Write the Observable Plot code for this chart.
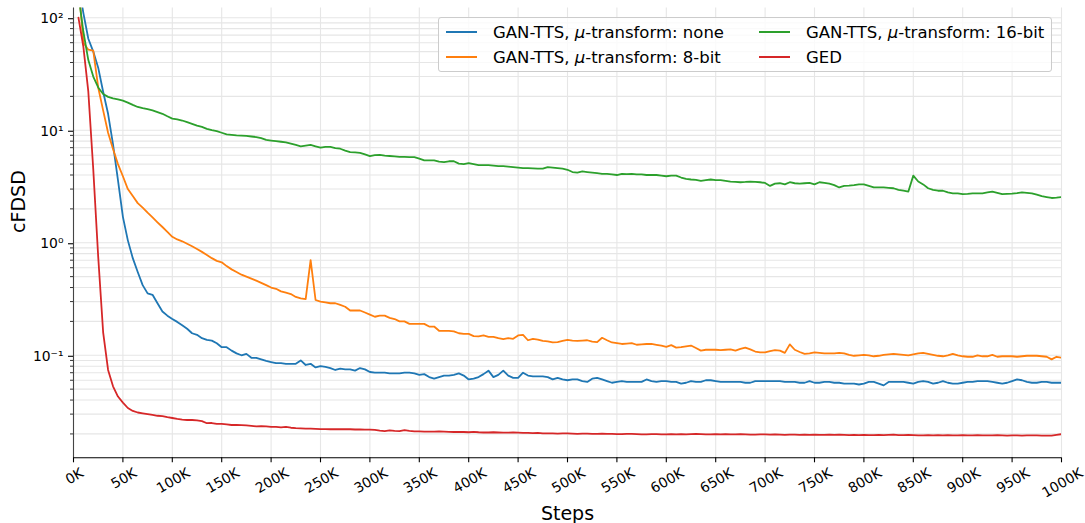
<!DOCTYPE html>
<html><head><meta charset="utf-8">
<script src="https://cdn.jsdelivr.net/npm/d3@7"></script>
<script src="https://cdn.jsdelivr.net/npm/@observablehq/plot@0.6"></script>
<style>
body{margin:0;background:#fff;}
#wrap{position:relative;width:1085px;height:523px;font-family:"DejaVu Sans",sans-serif;}
#legend{position:absolute;left:438px;top:17px;width:612px;height:53px;background:rgba(255,255,255,0.8);border:1px solid #cccccc;border-radius:3px;font-size:16.5px;color:#000;}
.item{position:absolute;display:flex;align-items:center;height:22px;white-space:nowrap;}
.sw{width:31px;height:0;border-top:2px solid;margin-right:16px;}
</style></head>
<body><div id="wrap"><div id="chart"></div><div id="legend"></div></div>
<script>
const steps = [
5,10,15,20,25,30,35,40,45,50,55,60,65,70,75,80,85,90,95,100,
105,110,115,120,125,130,135,140,145,150,155,160,165,170,175,180,185,190,195,200,
205,210,215,220,225,230,235,240,245,250,255,260,265,270,275,280,285,290,295,300,
305,310,315,320,325,330,335,340,345,350,355,360,365,370,375,380,385,390,395,400,
405,410,415,420,425,430,435,440,445,450,455,460,465,470,475,480,485,490,495,500,
505,510,515,520,525,530,535,540,545,550,555,560,565,570,575,580,585,590,595,600,
605,610,615,620,625,630,635,640,645,650,655,660,665,670,675,680,685,690,695,700,
705,710,715,720,725,730,735,740,745,750,755,760,765,770,775,780,785,790,795,800,
805,810,815,820,825,830,835,840,845,850,855,860,865,870,875,880,885,890,895,900,
905,910,915,920,925,930,935,940,945,950,955,960,965,970,975,980,985,990,995,1000];

const seriesNames = ["GAN-TTS, μ-transform: none","GAN-TTS, μ-transform: 8-bit","GAN-TTS, μ-transform: 16-bit","GED"];
const seriesColors = ["#1f77b4","#ff7f0e","#2ca02c","#d62728"];

const ganNone = [
200,110,65,50,36,22,14,7.5,3.6,1.7,1.05,0.73,0.55,0.42,0.355,0.345,0.29,0.245,0.225,0.21,
0.198,0.185,0.172,0.157,0.152,0.142,0.137,0.135,0.128,0.118,0.118,0.11,0.104,0.10,0.103,0.095,0.095,0.092,0.089,0.087,
0.085,0.085,0.084,0.084,0.084,0.090,0.082,0.084,0.078,0.080,0.079,0.077,0.074,0.076,0.075,0.075,0.073,0.077,0.075,0.071,
0.070,0.070,0.070,0.069,0.069,0.069,0.070,0.070,0.069,0.067,0.068,0.064,0.062,0.064,0.066,0.066,0.067,0.069,0.066,0.061,
0.062,0.064,0.068,0.073,0.064,0.067,0.073,0.066,0.063,0.063,0.070,0.066,0.065,0.065,0.065,0.064,0.061,0.063,0.061,0.060,
0.061,0.061,0.059,0.058,0.062,0.063,0.061,0.059,0.057,0.058,0.059,0.058,0.058,0.058,0.058,0.061,0.059,0.058,0.059,0.059,
0.058,0.058,0.056,0.057,0.059,0.058,0.058,0.060,0.060,0.059,0.058,0.058,0.058,0.058,0.058,0.057,0.057,0.059,0.059,0.059,
0.059,0.059,0.059,0.058,0.058,0.058,0.057,0.057,0.059,0.057,0.057,0.058,0.058,0.057,0.057,0.056,0.056,0.056,0.055,0.056,
0.058,0.058,0.056,0.054,0.058,0.058,0.058,0.058,0.057,0.056,0.058,0.059,0.058,0.056,0.057,0.059,0.057,0.056,0.056,0.057,
0.058,0.058,0.059,0.059,0.059,0.058,0.057,0.056,0.057,0.059,0.061,0.060,0.058,0.057,0.057,0.058,0.058,0.057,0.057,0.057];

const gan8bit = [
200,60,52,51,24,15,9.5,6.8,5.0,3.9,3.0,2.6,2.25,2.05,1.85,1.68,1.52,1.38,1.25,1.13,
1.07,1.03,0.98,0.93,0.88,0.83,0.78,0.73,0.69,0.67,0.62,0.58,0.55,0.52,0.50,0.48,0.46,0.44,0.42,0.40,
0.39,0.37,0.36,0.35,0.33,0.32,0.316,0.70,0.31,0.30,0.295,0.29,0.29,0.28,0.27,0.25,0.25,0.25,0.24,0.23,
0.22,0.225,0.225,0.215,0.21,0.20,0.20,0.19,0.19,0.19,0.19,0.18,0.18,0.165,0.165,0.165,0.163,0.157,0.155,0.155,
0.148,0.147,0.15,0.146,0.146,0.142,0.139,0.142,0.14,0.15,0.152,0.136,0.14,0.138,0.134,0.133,0.13,0.131,0.134,0.137,
0.135,0.134,0.135,0.136,0.132,0.131,0.143,0.136,0.13,0.128,0.126,0.127,0.128,0.124,0.125,0.126,0.126,0.124,0.122,0.119,
0.123,0.117,0.118,0.12,0.122,0.116,0.11,0.112,0.112,0.112,0.111,0.112,0.113,0.110,0.114,0.117,0.113,0.108,0.106,0.106,
0.109,0.111,0.110,0.105,0.125,0.112,0.107,0.103,0.104,0.106,0.105,0.104,0.104,0.104,0.105,0.104,0.101,0.099,0.1,0.101,
0.1,0.098,0.099,0.101,0.102,0.103,0.102,0.101,0.1,0.102,0.104,0.105,0.103,0.101,0.099,0.098,0.1,0.103,0.1,0.098,
0.097,0.097,0.1,0.098,0.098,0.101,0.097,0.098,0.098,0.098,0.097,0.098,0.099,0.099,0.099,0.098,0.097,0.092,0.097,0.095];

const gan16bit = [
160,75,42,30,24,21,19.8,19.2,18.8,18.3,17.6,16.8,16.1,15.7,15.4,15.0,14.5,14.0,13.3,12.7,
12.5,12.2,11.8,11.4,11.0,10.7,10.3,10.0,9.8,9.5,9.2,9.1,9.0,8.95,8.9,8.8,8.7,8.5,8.2,8.1,
8.0,7.9,7.8,7.6,7.4,7.2,7.3,7.4,7.2,7.0,7.1,7.1,6.95,6.85,6.6,6.4,6.35,6.3,6.1,5.9,
6.0,6.05,5.95,5.9,5.85,5.8,5.8,5.78,5.77,5.6,5.4,5.4,5.4,5.25,5.2,5.3,5.3,5.05,5.0,5.1,
5.0,4.9,4.9,4.9,4.85,4.8,4.8,4.75,4.7,4.65,4.6,4.6,4.58,4.55,4.55,4.7,4.65,4.6,4.55,4.45,
4.25,4.2,4.3,4.25,4.2,4.15,4.1,4.1,4.05,4.0,4.1,4.08,4.1,4.05,4.05,4.0,4.0,4.0,3.95,3.9,
3.95,3.95,3.8,3.7,3.65,3.62,3.55,3.6,3.65,3.6,3.6,3.55,3.5,3.48,3.45,3.47,3.5,3.48,3.45,3.4,
3.2,3.35,3.38,3.3,3.45,3.38,3.35,3.38,3.4,3.3,3.45,3.4,3.35,3.25,3.1,3.2,3.22,3.25,3.3,3.3,
3.2,3.1,3.1,3.1,3.08,3.05,2.95,2.9,2.85,3.95,3.5,3.3,3.05,2.95,2.9,2.9,2.8,2.75,2.75,2.7,
2.72,2.75,2.75,2.75,2.8,2.85,2.78,2.7,2.72,2.73,2.76,2.8,2.78,2.75,2.68,2.6,2.55,2.5,2.52,2.55];

const ged = [
100,55,22,4.5,0.75,0.16,0.074,0.053,0.043,0.038,0.034,0.032,0.031,0.0305,0.030,0.0295,0.029,0.0288,0.0282,0.0277,
0.0272,0.0268,0.0266,0.0266,0.0264,0.026,0.0249,0.025,0.0246,0.0246,0.0243,0.024,0.024,0.0239,0.0238,0.0236,0.0233,0.0235,0.0233,0.0231,
0.0231,0.0229,0.0231,0.0227,0.0225,0.0224,0.0223,0.0223,0.0222,0.0221,0.0221,0.022,0.022,0.022,0.022,0.022,0.0219,0.0219,0.0218,0.0218,
0.0217,0.0214,0.0212,0.0215,0.0213,0.0212,0.0216,0.0213,0.0211,0.0211,0.021,0.021,0.021,0.0211,0.021,0.0209,0.0208,0.0209,0.0208,0.0207,
0.0209,0.0207,0.0206,0.0206,0.0207,0.0206,0.0205,0.0205,0.0206,0.0205,0.0204,0.0204,0.0203,0.0204,0.0202,0.0202,0.0202,0.0201,0.0202,0.0202,
0.0201,0.02,0.0201,0.0201,0.02,0.02,0.0201,0.02,0.02,0.0199,0.0199,0.02,0.02,0.0199,0.0198,0.0198,0.0199,0.0199,0.0198,0.0198,
0.0199,0.0198,0.0199,0.0198,0.0199,0.02,0.0199,0.0198,0.0198,0.0199,0.0198,0.0199,0.0198,0.0198,0.0199,0.0198,0.0197,0.0197,0.0198,0.0198,
0.0197,0.0198,0.0197,0.0196,0.0197,0.0197,0.0196,0.0197,0.0196,0.0197,0.0196,0.0196,0.0197,0.0196,0.0197,0.0196,0.0195,0.0196,0.0195,0.0196,
0.0195,0.0195,0.0196,0.0195,0.0196,0.0197,0.0195,0.0195,0.0196,0.0195,0.0194,0.0194,0.0195,0.0194,0.0195,0.0194,0.0195,0.0194,0.0194,0.0195,
0.0194,0.0194,0.0195,0.0194,0.0194,0.0194,0.0195,0.0194,0.0193,0.0194,0.0194,0.0193,0.0194,0.0194,0.0194,0.0193,0.0193,0.0193,0.0196,0.0199];

const xTicks = [0,50,100,150,200,250,300,350,400,450,500,550,600,650,700,750,800,850,900,950,1000];
const xTickLabels = xTicks.map(t => t + "K");
const yMajor = [0.1,1,10,100];
const yTickLabels = ["10⁻¹","10⁰","10¹","10²"];
const yMinor = [];
for (const dec of [0.01,0.1,1,10]) for (let m = 2; m <= 9; m++) yMinor.push(+(dec*m).toPrecision(3));
const yDomain = [0.01227, 122];

const allSeries = [ganNone, gan8bit, gan16bit, ged];
const data = allSeries.map(vals => steps.map((s,i) => ({step: s, value: vals[i]})));

const fs = 13.9;
const labelWidth = s => (s.length - 1) * 0.636 * fs + 0.686 * fs;

const gridColor = "#e6e6e6";
const marks = [
  Plot.ruleY(yMinor, {stroke: gridColor, strokeWidth: 1.1}),
  Plot.ruleY(yMajor, {stroke: gridColor, strokeWidth: 1.1}),
  Plot.ruleX(xTicks, {stroke: gridColor, strokeWidth: 1.1}),
  ...data.map((d,k) => Plot.line(d, {x: "step", y: "value", stroke: seriesColors[k], strokeWidth: 1.8, clip: true})),
  Plot.ruleX([0], {stroke: "#444", strokeWidth: 1.1}),
  Plot.ruleY([yDomain[0]], {stroke: "#000", strokeWidth: 1.1}),
  Plot.axisX({ticks: xTicks, tickSize: 5, tickFormat: () => "", label: null, strokeWidth: 1.1}),
  Plot.axisY({ticks: yMajor, tickSize: 5, tickPadding: 5, tickFormat: d => yTickLabels[yMajor.indexOf(d)], label: null, fontSize: fs, strokeWidth: 1.1, dy: 1}),
  Plot.axisY({ticks: yMinor, tickSize: 3, tickFormat: () => "", label: null, strokeWidth: 0.8}),
  ...xTicks.map((t,i) => Plot.text([t], {x: d => d, frameAnchor: "bottom", text: () => xTickLabels[i],
     rotate: -30, textAnchor: "middle", lineAnchor: "middle", dx: 1, dy: 13.9 + 0.25 * labelWidth(xTickLabels[i]), fontSize: fs, fill: "#000"})),
  Plot.text(["Steps"], {frameAnchor: "bottom", text: d => d, dy: 56.5, fontSize: 19, fill: "#000", lineAnchor: "middle"}),
  Plot.text(["cFDSD"], {frameAnchor: "left", text: d => d, dx: -55, rotate: -90, fontSize: 19, fill: "#000", lineAnchor: "middle"})
];

const chart = Plot.plot({
  width: 1085, height: 523,
  marginLeft: 73, marginRight: 24, marginTop: 7.5, marginBottom: 65.7,
  x: {domain: [0, 1000]},
  y: {type: "log", domain: yDomain},
  style: {fontFamily: "DejaVu Sans", fontSize: fs + "px", color: "#000", background: "transparent"},
  marks
});
document.getElementById("chart").appendChild(chart);

// legend (two columns, column-wise order as in the reference)
const legend = document.getElementById("legend");
const pos = [[7,3],[7,28],[320,3],[320,28]];
seriesNames.forEach((name, k) => {
  const it = document.createElement("div");
  it.className = "item";
  it.style.left = pos[k][0] + "px";
  it.style.top = pos[k][1] + "px";
  const sw = document.createElement("span");
  sw.className = "sw";
  sw.style.borderTopColor = seriesColors[k];
  const tx = document.createElement("span");
  tx.innerHTML = name.replace("μ", "<i>μ</i>");
  it.appendChild(sw); it.appendChild(tx);
  legend.appendChild(it);
});
</script></body></html>
